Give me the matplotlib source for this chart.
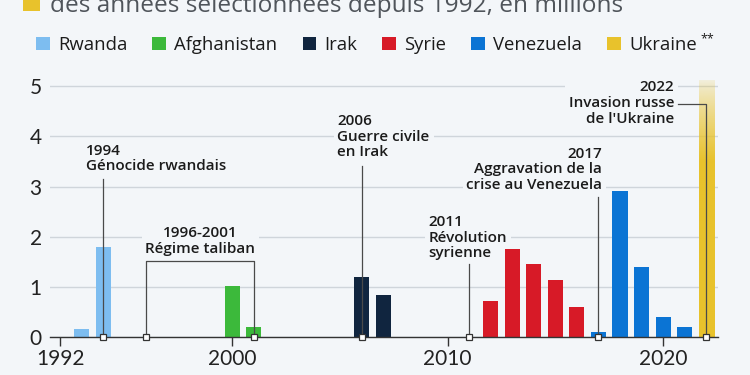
import matplotlib.pyplot as plt
import numpy as np
from matplotlib.patches import Rectangle

# data (millions)
countries = ["Rwanda", "Afghanistan", "Irak", "Syrie", "Venezuela", "Ukraine"]
colors = ["#7dbdf0", "#3cb93b", "#10253f", "#d71a27", "#0b74d4", "#e8c22c"]

rwanda_years = [1993, 1994]
rwanda_vals = [0.16, 1.80]
afgh_years = [2000, 2001]
afgh_vals = [1.02, 0.21]
irak_years = [2006, 2007]
irak_vals = [1.20, 0.84]
syrie_years = [2012, 2013, 2014, 2015, 2016]
syrie_vals = [0.73, 1.75, 1.46, 1.15, 0.60]
venez_years = [2017, 2018, 2019, 2020, 2021]
venez_vals = [0.10, 2.92, 1.39, 0.41, 0.20]
ukraine_year = 2022
ukraine_val = 5.12

xticks = [1992, 2000, 2010, 2020]
yticks = [0, 1, 2, 3, 4, 5]

title = "des années sélectionnées depuis 1992, en millions"

bg = "#f3f6f9"
txt_dark = "#1b1b1b"
line_col = "#4a4a4a"
ann_font = ["Open Sans", "DejaVu Sans"]

fig = plt.figure(figsize=(7.5, 3.75), dpi=100, facecolor=bg)
ax = fig.add_axes([50 / 750, 1 - 337.3 / 375, 668 / 750, (337.3 - 80) / 375])
ax.set_facecolor(bg)

w = 0.7
series = [(rwanda_years, rwanda_vals), (afgh_years, afgh_vals), (irak_years, irak_vals),
          (syrie_years, syrie_vals), (venez_years, venez_vals)]
for (yrs, vals), c in zip(series, colors[:5]):
    ax.bar(yrs, vals, width=w, color=c, zorder=3)

# Ukraine bar, fading towards the top
n = 256
levels = np.linspace(0, ukraine_val, n)
alpha = np.clip(1 - (levels - 3.5) / (ukraine_val - 3.5), 0, 1)
alpha = 0.12 + 0.88 * alpha ** 0.8
rgba = np.zeros((n, 1, 4))
rgba[:, 0, :3] = plt.matplotlib.colors.to_rgb(colors[5])
rgba[:, 0, 3] = alpha
ax.imshow(rgba, extent=[ukraine_year - w / 2, ukraine_year + w / 2, 0, ukraine_val],
          origin="lower", aspect="auto", zorder=3, interpolation="bilinear")

ax.set_xlim(1991.53, 2022.55)
ax.set_ylim(0, 5.12)
ax.set_xticks(xticks)
ax.set_yticks(yticks)
ax.yaxis.grid(True, color="#cfd5db", lw=1)
ax.set_axisbelow(True)
for s in ["top", "right", "left"]:
    ax.spines[s].set_visible(False)
ax.spines["bottom"].set_color("#333333")
ax.spines["bottom"].set_linewidth(1)
ax.spines["bottom"].set_zorder(4)
ax.tick_params(axis="x", direction="out", length=6.5, width=1, color="#333333",
               pad=2, labelsize=15, labelcolor="#222222")
ax.tick_params(axis="y", length=0, pad=6, labelsize=15, labelcolor="#222222")
for lab in ax.get_xticklabels() + ax.get_yticklabels():
    lab.set_family(["Lato", "DejaVu Sans"])

# annotations
box = dict(boxstyle="square,pad=0.25", fc=bg, ec="none")
tk = dict(fontsize=11, family=ann_font, weight="semibold", color=txt_dark,
          linespacing=1.15, bbox=box, zorder=2.5)
mk = dict(marker="s", ms=4.5, mfc="white", mec="#333333", mew=0.9, clip_on=False, zorder=6)
lk = dict(color=line_col, lw=0.9, zorder=5)

# vertical callouts: (year, line top, text, text x, text y, ha)
callouts = [
    (1994, 3.15, "1994\nGénocide rwandais", 1993.18, 3.56, "left"),
    (2006, 3.41, "2006\nGuerre civile\nen Irak", 2004.88, 3.99, "left"),
    (2011, 1.46, "2011\nRévolution\nsyrienne", 2009.10, 1.98, "left"),
    (2017, 2.79, "2017\nAggravation de la\ncrise au Venezuela", 2017.18, 3.34, "right"),
]
for yr, top, txt, tx, ty, ha in callouts:
    ax.plot([yr, yr], [0, top], **lk)
    ax.plot([yr], [0], **mk)
    ax.text(tx, ty, txt, ha=ha, va="center", **tk)

# bracket 1996-2001
ax.plot([1996, 1996, 2001, 2001], [0, 1.52, 1.52, 0], **lk)
ax.plot([1996, 2001], [0, 0], ls="none", **mk)
ax.text(1998.51, 1.91, "1996-2001\nRégime taliban", ha="center", va="center", **tk)

# Ukraine
ax.plot([2020.70, ukraine_year, ukraine_year], [4.64, 4.64, 0], **lk)
ax.plot([ukraine_year], [0], **mk)
ax.text(2020.52, 4.66, "2022\nInvasion russe\nde l'Ukraine", ha="right", va="center", **tk)

# title fragment (cut at top, as in the source image)
fig.add_artist(Rectangle((23 / 750, 1 - 11 / 375), 16.5 / 750, 16 / 375,
                         transform=fig.transFigure, color=colors[5], lw=0))
fig.text(50 / 750, 1 - 12 / 375, title, ha="left", va="baseline", fontsize=17.6,
         family=ann_font, color="#50555b")

# legend
renderer = fig.canvas.get_renderer()
xpix = 36
ly = 1 - 43.5 / 375
for name, c in zip(countries, colors):
    fig.add_artist(Rectangle((xpix / 750, ly - 6.5 / 375), 13.5 / 750, 13 / 375,
                             transform=fig.transFigure, color=c, lw=0))
    t = fig.text((xpix + 22) / 750, ly, name, ha="left", va="center_baseline",
                 fontsize=13.3, family=ann_font, color=txt_dark)
    end = t.get_window_extent(renderer).x1
    if name == "Ukraine":
        t2 = fig.text(end / 750 + 3 / 750, ly + 5 / 375, "**", ha="left", va="center",
                      fontsize=9, family=ann_font, color=txt_dark)
        end = t2.get_window_extent(renderer).x1
    xpix = end + 25

fig.savefig("out.png", dpi=100, facecolor=bg)
